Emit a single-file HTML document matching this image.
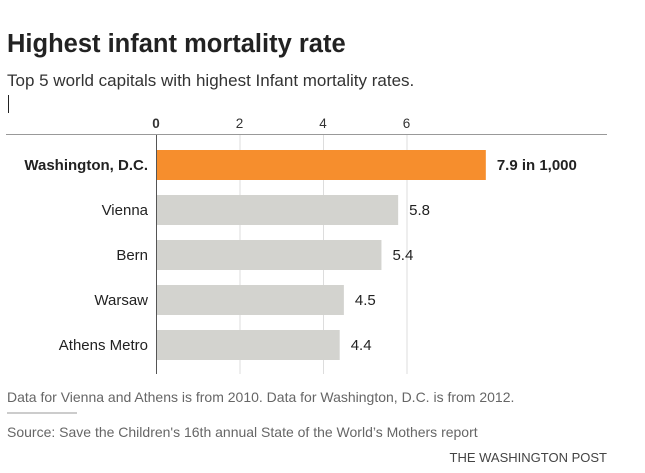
<!DOCTYPE html>
<html><head><meta charset="utf-8"><style>
body{margin:0;width:645px;height:473px;background:#fff;font-family:"Liberation Sans Narrow","Liberation Sans",sans-serif;color:#222;position:relative;overflow:hidden}
.a{position:absolute;white-space:nowrap}
</style></head><body>
<div class="a" style="left:7px;top:30px;font-size:25.5px;font-weight:bold;color:#222">Highest infant mortality rate</div>
<div class="a" style="left:7px;top:71px;font-size:17px;color:#333">Top 5 world capitals with highest Infant mortality rates.</div>
<div class="a" style="left:8px;top:95px;width:1px;height:18px;background:#222"></div>
<svg class="a" style="left:0;top:0" width="645" height="473" id="chart"></svg>
<div class="a" style="left:7px;top:389px;font-size:14px;color:#666">Data for Vienna and Athens is from 2010. Data for Washington, D.C. is from 2012.</div>
<div class="a" style="left:7px;top:412px;width:70px;height:2px;background:#ccc"></div>
<div class="a" style="left:7px;top:424px;font-size:14px;color:#666">Source: Save the Children's 16th annual State of the World’s Mothers report</div>
<div class="a" style="right:38px;top:450px;font-size:13px;color:#444">THE WASHINGTON POST</div>
<script>
const categories=["Washington, D.C.","Vienna","Bern","Warsaw","Athens Metro"];
const values=[7.9,5.8,5.4,4.5,4.4];
const valueLabels=["7.9 in 1,000","5.8","5.4","4.5","4.4"];
const ticks=[0,2,4,6];
const NS="http://www.w3.org/2000/svg",svg=document.getElementById("chart");
const x=v=>156+v*41.75, y=i=>150+i*45;
function mk(t,a,txt){const e=document.createElementNS(NS,t);for(const k in a)e.setAttribute(k,a[k]);if(txt!=null)e.textContent=txt;svg.appendChild(e);return e;}
let e=mk("line",{x1:6,x2:607,y1:134.5,y2:134.5,stroke:"#999","stroke-width":1});


ticks.forEach((t,i)=>{
 if(t>0){const g=mk("line",{x1:x(t)+.5,x2:x(t)+.5,y1:135,y2:374,stroke:"#ddd","stroke-width":1});
 
 }
 const l=mk("text",{x:x(t),y:128,"text-anchor":"middle","font-size":13.5,fill:"#333","font-weight":t===0?"bold":"normal"},t);
 
 
});
categories.forEach((c,i)=>{
 const b=mk("rect",{x:x(0),y:y(i),width:x(values[i])-x(0),height:30,fill:i===0?"#f68e2d":"#d3d3cf"});
 
 
 const l=mk("text",{x:148,y:y(i)+20,"text-anchor":"end","font-size":15,fill:"#222","font-weight":i===0?"bold":"normal"},c);
 
 
 const v=mk("text",{x:x(values[i])+11,y:y(i)+20,"font-size":15,fill:"#222","font-weight":i===0?"bold":"normal"},valueLabels[i]);
 
 
});
e=mk("line",{x1:156.5,x2:156.5,y1:135,y2:374,stroke:"#555","stroke-width":1});


</script>
</body></html>
